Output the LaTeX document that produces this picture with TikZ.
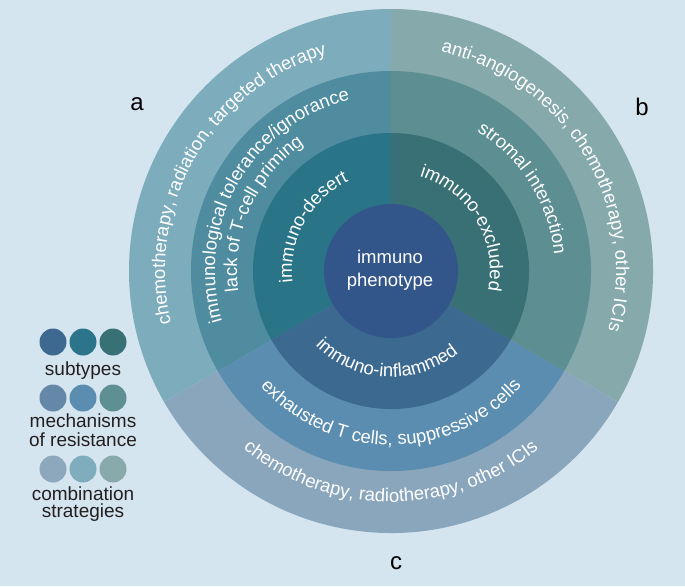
\documentclass[tikz,border=0pt]{standalone}
\usepackage{fontspec}
\setmainfont{Liberation Sans}
\usetikzlibrary{decorations.text}
\definecolor{bg}{HTML}{D4E5EF}
\definecolor{aO}{HTML}{7DADBD}
\definecolor{aM}{HTML}{4F8C9F}
\definecolor{aI}{HTML}{2A7488}
\definecolor{bO}{HTML}{86A9AB}
\definecolor{bM}{HTML}{5D8E91}
\definecolor{bI}{HTML}{387075}
\definecolor{cO}{HTML}{8AA6BC}
\definecolor{cM}{HTML}{5B8DB0}
\definecolor{cI}{HTML}{3C6990}
\definecolor{ctr}{HTML}{33568A}
\definecolor{lA1}{HTML}{3D6990}
\definecolor{lA2}{HTML}{2B7489}
\definecolor{lA3}{HTML}{387175}
\definecolor{lB1}{HTML}{6587A8}
\definecolor{lB2}{HTML}{5A8DAF}
\definecolor{lB3}{HTML}{5E9093}
\definecolor{lC1}{HTML}{8DA7BD}
\definecolor{lC2}{HTML}{7FADBD}
\definecolor{lC3}{HTML}{88AAAA}
\definecolor{legtext}{HTML}{231F20}
\newcommand\rfont{\fontsize{18.5}{22}\selectfont}
\tikzset{
  ringtext/.style={decorate, decoration={text along path, text={|\rfont|#1}, text align=center, text color=white}},
  legcirc/.style={circle, inner sep=0pt, minimum size=27pt},
  legtxt/.style={anchor=base, text=legtext, font=\fontsize{19}{19}\selectfont, inner sep=0pt},
  letter/.style={anchor=base, text=black, font=\fontsize{24}{24}\selectfont, inner sep=0pt}
}
\begin{document}
\begin{tikzpicture}[x=1pt,y=1pt]
\fill[bg] (0,0) rectangle (685,-586);
\useasboundingbox (0,0) rectangle (685,-586);
\coordinate (C) at (391,-271);
% outer ring sectors
\fill[aO] (C) -- ([shift={(90:262pt)}]C) arc[start angle=90, end angle=210, radius=262pt] -- cycle;
\fill[bO] (C) -- ([shift={(-30:262pt)}]C) arc[start angle=-30, end angle=90, radius=262pt] -- cycle;
\fill[cO] (C) -- ([shift={(210:262pt)}]C) arc[start angle=210, end angle=330, radius=262pt] -- cycle;
% middle ring sectors
\fill[aM] (C) -- ([shift={(90:200pt)}]C) arc[start angle=90, end angle=210, radius=200pt] -- cycle;
\fill[bM] (C) -- ([shift={(-30:200pt)}]C) arc[start angle=-30, end angle=90, radius=200pt] -- cycle;
\fill[cM] (C) -- ([shift={(210:200pt)}]C) arc[start angle=210, end angle=330, radius=200pt] -- cycle;
% inner ring sectors
\fill[aI] (C) -- ([shift={(90:138pt)}]C) arc[start angle=90, end angle=210, radius=138pt] -- cycle;
\fill[bI] (C) -- ([shift={(-30:138pt)}]C) arc[start angle=-30, end angle=90, radius=138pt] -- cycle;
\fill[cI] (C) -- ([shift={(210:138pt)}]C) arc[start angle=210, end angle=330, radius=138pt] -- cycle;
% centre
\node[circle, fill=ctr, minimum size=134pt, inner sep=0pt] (core) at (C) {};
\node[align=center, text=white, font=\fontsize{18.5}{23}\selectfont, inner sep=0pt] (coretxt) at (390,-270) {immuno\\phenotype};
% sector a texts
\path[ringtext={immuno-desert}] ([shift={(231:99pt)}]C) arc[start angle=231, end angle=71, radius=99pt];
\path[ringtext={lack of T-cell priming}] ([shift={(236:154pt)}]C) arc[start angle=236, end angle=76, radius=154pt];
\path[ringtext={immunological tolerance/ignorance}] ([shift={(230:176pt)}]C) arc[start angle=230, end angle=70, radius=176pt];
\path[ringtext={chemotherapy, radiation, targeted therapy}] ([shift={(230:226pt)}]C) arc[start angle=230, end angle=70, radius=226pt];
% sector b texts
\path[ringtext={immuno-excluded}] ([shift={(111:99pt)}]C) arc[start angle=111, end angle=-49, radius=99pt];
\path[ringtext={stromal interaction}] ([shift={(112:164pt)}]C) arc[start angle=112, end angle=-48, radius=164pt];
\path[ringtext={anti-angiogenesis, chemotherapy, other ICIs}] ([shift={(111:225pt)}]C) arc[start angle=111, end angle=-49, radius=225pt];
% sector c texts
\path[ringtext={immuno-inflammed}] ([shift={(187:106pt)}]C) arc[start angle=187, end angle=347, radius=106pt];
\path[ringtext={exhausted T cells, suppressive cells}] ([shift={(190:174pt)}]C) arc[start angle=190, end angle=350, radius=174pt];
\path[ringtext={chemotherapy, radiotherapy, other ICIs}] ([shift={(190:231pt)}]C) arc[start angle=190, end angle=350, radius=231pt];
% sector labels
\node[letter] (la) at (137,-110) {a};
\node[letter] (lb) at (642,-115) {b};
\node[letter] (lc) at (396,-569) {c};
% legend
\node[legcirc, fill=lA1] (k11) at (53,-342) {};
\node[legcirc, fill=lA2] (k12) at (83,-342) {};
\node[legcirc, fill=lA3] (k13) at (113,-342) {};
\node[legtxt] (t1) at (83,-375) {subtypes};
\node[legcirc, fill=lB1] (k21) at (53,-398) {};
\node[legcirc, fill=lB2] (k22) at (83,-398) {};
\node[legcirc, fill=lB3] (k23) at (113,-398) {};
\node[legtxt] (t2a) at (83,-427) {mechanisms};
\node[legtxt] (t2b) at (83,-446) {of resistance};
\node[legcirc, fill=lC1] (k31) at (53,-469) {};
\node[legcirc, fill=lC2] (k32) at (83,-469) {};
\node[legcirc, fill=lC3] (k33) at (113,-469) {};
\node[legtxt] (t3a) at (83,-500) {combination};
\node[legtxt] (t3b) at (83,-517) {strategies};
\end{tikzpicture}
\end{document}
